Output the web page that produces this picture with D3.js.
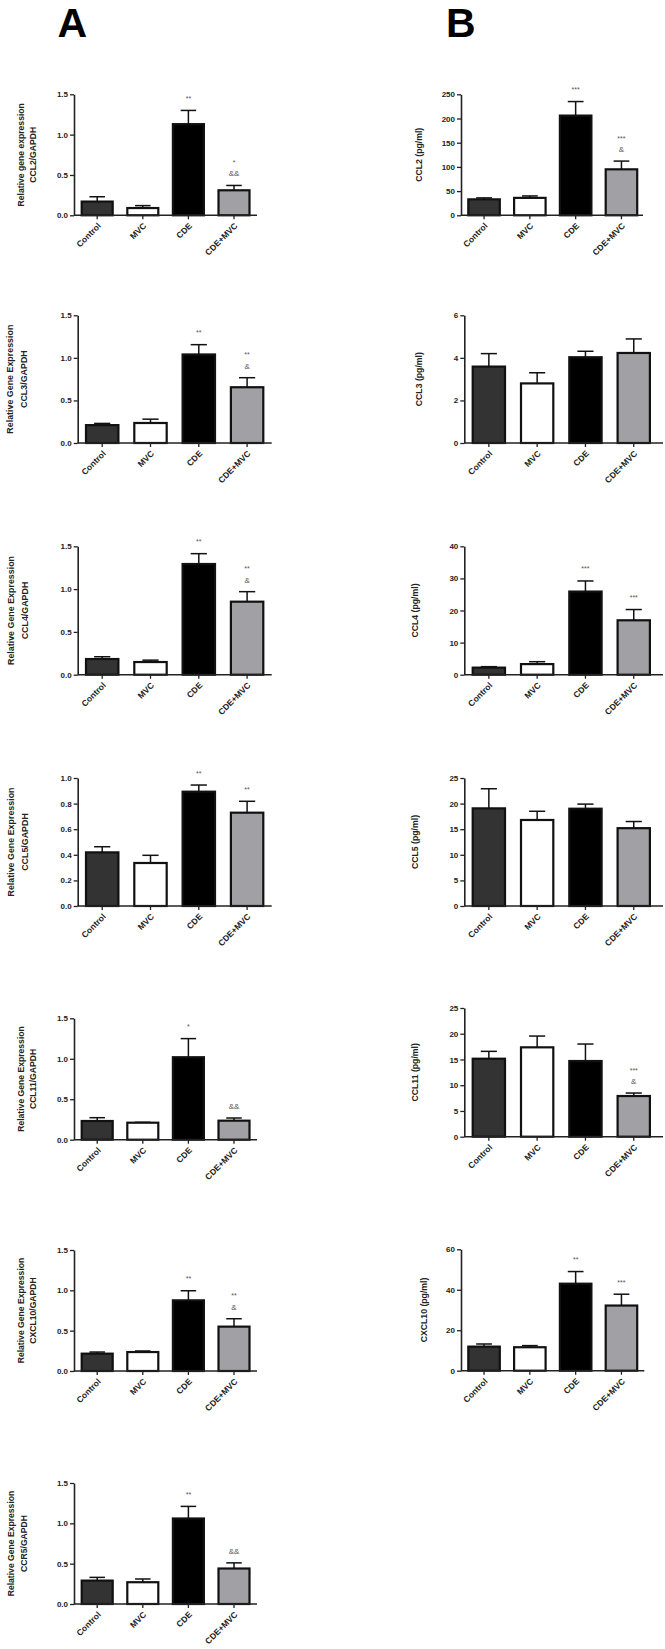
<!DOCTYPE html>
<html><head><meta charset="utf-8">
<script src="https://cdn.jsdelivr.net/npm/d3@7"></script>
<style>
body{margin:0;background:#fff}
svg{display:block}
text{font-family:"Liberation Sans",Arial,sans-serif}
</style>
</head><body><svg id="c" width="665" height="1649"></svg>
<script>
// ---------- DATA ----------
const groups = ["Control", "MVC", "CDE", "CDE+MVC"];

// Panel A: relative gene expression (mean, SEM, significance labels top→bottom)
const ccl2RelMean = [0.17, 0.09, 1.13, 0.31];
const ccl2RelSem  = [0.06, 0.03, 0.17, 0.06];
const ccl2RelSig  = [[], [], ["**"], ["*", "&&"]];

const ccl3RelMean = [0.21, 0.235, 1.04, 0.655];
const ccl3RelSem  = [0.02, 0.045, 0.115, 0.112];
const ccl3RelSig  = [[], [], ["**"], ["**", "&"]];

const ccl4RelMean = [0.183, 0.148, 1.293, 0.853];
const ccl4RelSem  = [0.027, 0.022, 0.121, 0.117];
const ccl4RelSig  = [[], [], ["**"], ["**", "&"]];

const ccl5RelMean = [0.419, 0.336, 0.893, 0.729];
const ccl5RelSem  = [0.044, 0.06, 0.052, 0.089];
const ccl5RelSig  = [[], [], ["**"], ["**"]];

const ccl11RelMean = [0.231, 0.21, 1.019, 0.235];
const ccl11RelSem  = [0.041, 0.005, 0.23, 0.033];
const ccl11RelSig  = [[], [], ["*"], ["&&"]];

const cxcl10RelMean = [0.215, 0.235, 0.876, 0.55];
const cxcl10RelSem  = [0.02, 0.013, 0.119, 0.098];
const cxcl10RelSig  = [[], [], ["**"], ["**", "&"]];

const ccr5RelMean = [0.29, 0.27, 1.06, 0.44];
const ccr5RelSem  = [0.04, 0.04, 0.15, 0.07];
const ccr5RelSig  = [[], [], ["**"], ["&&"]];

// Panel B: protein (pg/ml)
const ccl2PgMean = [33, 36, 206, 95];
const ccl2PgSem  = [3, 4, 29, 17];
const ccl2PgSig  = [[], [], ["***"], ["***", "&"]];

const ccl3PgMean = [3.59, 2.8, 4.03, 4.23];
const ccl3PgSem  = [0.61, 0.5, 0.28, 0.66];
const ccl3PgSig  = [[], [], [], []];

const ccl4PgMean = [2.2, 3.3, 25.9, 16.95];
const ccl4PgSem  = [0.3, 0.75, 3.3, 3.35];
const ccl4PgSig  = [[], [], ["***"], ["***"]];

const ccl5PgMean = [19.07, 16.8, 19.0, 15.2];
const ccl5PgSem  = [3.83, 1.7, 0.9, 1.3];
const ccl5PgSig  = [[], [], [], []];

const ccl11PgMean = [15.15, 17.36, 14.7, 7.9];
const ccl11PgSem  = [1.43, 2.19, 3.3, 0.58];
const ccl11PgSig  = [[], [], [], ["***", "&"]];

const cxcl10PgMean = [11.9, 11.6, 43.0, 32.2];
const cxcl10PgSem  = [1.3, 0.8, 6.0, 5.6];
const cxcl10PgSig  = [[], [], ["**"], ["***"]];

// Tick values
const relTicks15 = [0, 0.5, 1.0, 1.5];
const relTicks10 = [0, 0.2, 0.4, 0.6, 0.8, 1.0];
const ccl2Ticks  = [0, 50, 100, 150, 200, 250];
const ccl3Ticks  = [0, 2, 4, 6];
const ccl4Ticks  = [0, 10, 20, 30, 40];
const ccl5Ticks  = [0, 5, 10, 15, 20, 25];
const ccl11Ticks = [0, 5, 10, 15, 20, 25];
const cxcl10Ticks = [0, 20, 40, 60];

// Axis titles
const titleA1 = ["Relative gene expression", "CCL2/GAPDH"];
const titleA2 = ["Relative Gene Expression", "CCL3/GAPDH"];
const titleA3 = ["Relative Gene Expression", "CCL4/GAPDH"];
const titleA4 = ["Relative Gene Expression", "CCL5/GAPDH"];
const titleA5 = ["Relative Gene Expression", "CCL11/GAPDH"];
const titleA6 = ["Relative Gene Expression", "CXCL10/GAPDH"];
const titleA7 = ["Relative Gene Expression", "CCR5/GAPDH"];
const titleB1 = ["CCL2 (pg/ml)"];
const titleB2 = ["CCL3 (pg/ml)"];
const titleB3 = ["CCL4 (pg/ml)"];
const titleB4 = ["CCL5 (pg/ml)"];
const titleB5 = ["CCL11 (pg/ml)"];
const titleB6 = ["CXCL10 (pg/ml)"];

// ---------- STYLE / LAYOUT ----------
const fills = ["#333333", "#ffffff", "#000000", "#a1a1a5"];

const smallA = {ax: 74, axEnd: 257, off: 7.7, step: 45.6, barW: 31, tx: [21, 33], tfs: 8.6, tw: "bold"};
const bigA   = {ax: 77.7, axEnd: 271.7, off: 8.3, step: 48.3, barW: 32.4, tx: [10.5, 24.5], tfs: 8.9, tw: "bold"};
const smallB = {ax: 461, axEnd: 643, off: 7.3, step: 45.8, barW: 31.5, tfs: 8.7, tw: "bold"};
const bigB   = {ax: 464.3, axEnd: 663, off: 8.4, step: 48.3, barW: 32.3, tfs: 8.7, tw: "bold"};

const panels = [
  {mean: ccl2RelMean, sem: ccl2RelSem, sig: ccl2RelSig, ticks: relTicks15, fmt: ".1f", title: titleA1,
   L: Object.assign({}, smallA, {y0: 215.3, yTop: 94.3})},
  {mean: ccl2PgMean, sem: ccl2PgSem, sig: ccl2PgSig, ticks: ccl2Ticks, fmt: "d", title: titleB1,
   L: Object.assign({}, smallB, {y0: 215.3, yTop: 94.3, tx: [419]})},
  {mean: ccl3RelMean, sem: ccl3RelSem, sig: ccl3RelSig, ticks: relTicks15, fmt: ".1f", title: titleA2,
   L: Object.assign({}, bigA, {y0: 443, yTop: 315.3, tx: [10, 24]})},
  {mean: ccl3PgMean, sem: ccl3PgSem, sig: ccl3PgSig, ticks: ccl3Ticks, fmt: "d", title: titleB2,
   L: Object.assign({}, bigB, {y0: 443, yTop: 315.3, tx: [419.3]})},
  {mean: ccl4RelMean, sem: ccl4RelSem, sig: ccl4RelSig, ticks: relTicks15, fmt: ".1f", title: titleA3,
   L: Object.assign({}, bigA, {y0: 674.7, yTop: 546.3})},
  {mean: ccl4PgMean, sem: ccl4PgSem, sig: ccl4PgSig, ticks: ccl4Ticks, fmt: "d", title: titleB3,
   L: Object.assign({}, bigB, {y0: 674.7, yTop: 546.3, tx: [415]})},
  {mean: ccl5RelMean, sem: ccl5RelSem, sig: ccl5RelSig, ticks: relTicks10, fmt: ".1f", title: titleA4,
   L: Object.assign({}, bigA, {y0: 906, yTop: 778})},
  {mean: ccl5PgMean, sem: ccl5PgSem, sig: ccl5PgSig, ticks: ccl5Ticks, fmt: "d", title: titleB4,
   L: Object.assign({}, bigB, {y0: 906, yTop: 778, tx: [415]})},
  {mean: ccl11RelMean, sem: ccl11RelSem, sig: ccl11RelSig, ticks: relTicks15, fmt: ".1f", title: titleA5,
   L: Object.assign({}, smallA, {y0: 1139.7, yTop: 1018.3, tx: [20.7, 33.3]})},
  {mean: ccl11PgMean, sem: ccl11PgSem, sig: ccl11PgSig, ticks: ccl11Ticks, fmt: "d", title: titleB5,
   L: Object.assign({}, bigB, {y0: 1136.7, yTop: 1008, tx: [415]})},
  {mean: cxcl10RelMean, sem: cxcl10RelSem, sig: cxcl10RelSig, ticks: relTicks15, fmt: ".1f", title: titleA6,
   L: Object.assign({}, smallA, {y0: 1371, yTop: 1250, tx: [20.7, 33.3]})},
  {mean: cxcl10PgMean, sem: cxcl10PgSem, sig: cxcl10PgSig, ticks: cxcl10Ticks, fmt: "d", title: titleB6,
   L: Object.assign({}, smallB, {axEnd: 644.3, y0: 1370.7, yTop: 1249.3, tx: [424.3]})},
  {mean: ccr5RelMean, sem: ccr5RelSem, sig: ccr5RelSig, ticks: relTicks15, fmt: ".1f", title: titleA7,
   L: Object.assign({}, smallA, {y0: 1604, yTop: 1483, tx: [10.5, 24]})}
];

// ---------- DRAW ----------
const svg = d3.select("#c");

svg.append("text").attr("x", 57.5).attr("y", 37).attr("font-size", 41).attr("font-weight", "bold").attr("fill", "#000").text("A");
svg.append("text").attr("x", 446).attr("y", 37).attr("font-size", 41).attr("font-weight", "bold").attr("fill", "#000").text("B");

function drawPanel(p) {
  const L = p.L;
  const g = svg.append("g");
  const pi = 1 - L.barW / L.step;
  const r0 = L.ax + L.off - (L.step - L.barW) / 2;
  const x = d3.scaleBand().domain(groups).range([r0, r0 + 4 * L.step]).paddingInner(pi).paddingOuter(pi / 2);
  const y = d3.scaleLinear().domain([0, d3.max(p.ticks)]).range([L.y0, L.yTop]);
  const data = groups.map((k, i) => ({k, i, m: p.mean[i], s: p.sem[i], sig: p.sig[i]}));
  const capW = x.bandwidth() * 0.5;

  // error bars (upper only)
  const eb = g.selectAll("g.eb").data(data).join("g").attr("class", "eb");
  eb.append("line")
    .attr("x1", d => x(d.k) + x.bandwidth() / 2).attr("x2", d => x(d.k) + x.bandwidth() / 2)
    .attr("y1", d => y(d.m)).attr("y2", d => y(d.m + d.s))
    .attr("stroke", "#111").attr("stroke-width", 1.5);
  eb.append("line")
    .attr("x1", d => x(d.k) + x.bandwidth() / 2 - capW / 2).attr("x2", d => x(d.k) + x.bandwidth() / 2 + capW / 2)
    .attr("y1", d => y(d.m + d.s)).attr("y2", d => y(d.m + d.s))
    .attr("stroke", "#111").attr("stroke-width", 1.5);

  // bars
  g.selectAll("rect.bar").data(data).join("rect").attr("class", "bar")
    .attr("x", d => x(d.k)).attr("width", x.bandwidth())
    .attr("y", d => y(d.m)).attr("height", d => L.y0 - y(d.m))
    .attr("fill", d => fills[d.i]).attr("stroke", "#111").attr("stroke-width", 2.2);

  // significance marks
  data.forEach(d => {
    const top = y(d.m + d.s);
    const lines = d.sig.slice().reverse();
    lines.forEach((t, j) => {
      const isStar = t.indexOf("*") >= 0;
      g.append("text")
        .attr("x", x(d.k) + x.bandwidth() / 2)
        .attr("y", top - 9 - 11.5 * j + (isStar ? (j === 0 ? -0.5 : 0) : 0))
        .attr("text-anchor", "middle")
        .attr("font-size", isStar ? 7 : 8)
        .attr("fill", "#555")
        .text(t);
    });
  });

  // y axis
  const ya = g.append("g").attr("transform", `translate(${L.ax},0)`)
    .call(d3.axisLeft(y).tickValues(p.ticks).tickFormat(d3.format(p.fmt)).tickSize(4).tickSizeOuter(0).tickPadding(2));
  // x axis
  const xa = g.append("g").attr("transform", `translate(0,${L.y0})`)
    .call(d3.axisBottom(x).tickSize(4).tickSizeOuter(0));
  xa.select(".domain").attr("d", `M${L.ax},0H${L.axEnd}`);
  [ya, xa].forEach(a => {
    a.select(".domain").attr("stroke", "#222").attr("stroke-width", 1.6);
    a.selectAll(".tick line").attr("stroke", "#222").attr("stroke-width", 1.3);
    a.selectAll(".tick text").attr("fill", "#222").attr("font-size", 8).attr("font-weight", "bold")
      .attr("font-family", "'Liberation Sans', Arial, sans-serif");
  });
  xa.selectAll(".tick text")
    .attr("x", 0).attr("y", 0).attr("dy", "0.35em")
    .attr("text-anchor", "end")
    .attr("font-size", 8.5)
    .attr("transform", "translate(2,9) rotate(-45)");

  // y title
  const cy = (L.y0 + L.yTop) / 2;
  p.title.forEach((t, j) => {
    g.append("text")
      .attr("transform", `translate(${L.tx[j]},${cy}) rotate(-90)`)
      .attr("dy", "0.35em")
      .attr("text-anchor", "middle")
      .attr("font-size", L.tfs)
      .attr("font-weight", L.tw)
      .attr("fill", "#222")
      .text(t);
  });
}

panels.forEach(drawPanel);
</script>
</body></html>
